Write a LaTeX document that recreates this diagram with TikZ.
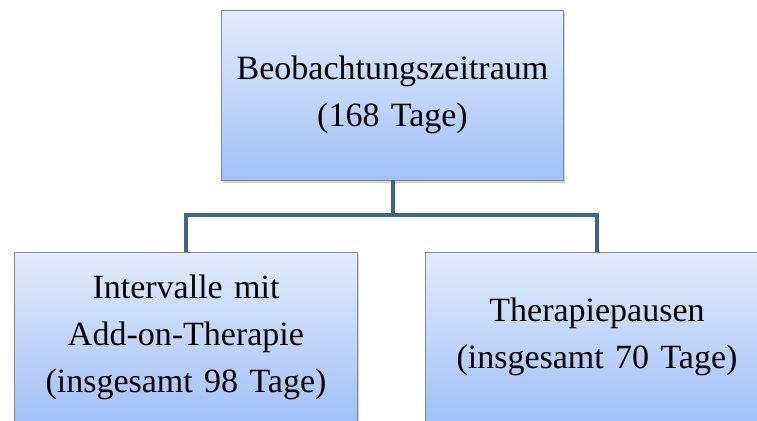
\documentclass[tikz,border=0pt]{standalone}
\usepackage{fontspec}
\setmainfont{Liberation Serif}
\usetikzlibrary{shadows}

\definecolor{boxtop}{RGB}{226,235,252}
\definecolor{boxbottom}{RGB}{160,193,248}
\definecolor{boxline}{RGB}{138,138,138}
\definecolor{linkblue}{RGB}{63,100,144}

\begin{document}
\begin{tikzpicture}[x=1pt, y=-1pt,
    box/.style = {draw=boxline, line width=0.8pt, rectangle,
      top color=boxtop, bottom color=boxbottom,
      minimum width=341pt, minimum height=170pt,
      text width=336pt, align=center,
      font=\fontsize{34}{47}\selectfont,
      drop shadow={shadow xshift=1.5pt, shadow yshift=-2.5pt, fill=black!40, opacity=.45}},
    link/.style = {draw=linkblue, line width=4pt}]
    \useasboundingbox[clip] (0,0) rectangle (757,420);
    \node[box] (top) at (392.5,95) {Beobachtungszeitraum\\(168 Tage)};
    \node[box] (left) at (186,337) {Intervalle mit\\Add-on-Therapie\\(insgesamt 98 Tage)};
    \node[box] (right) at (597,337) {Therapiepausen\\(insgesamt 70 Tage)};
    \draw[link] (top.south) -- ++(0,35) -| (left.north);
    \draw[link] (top.south) -- ++(0,35) -| (right.north);
\end{tikzpicture}
\end{document}
